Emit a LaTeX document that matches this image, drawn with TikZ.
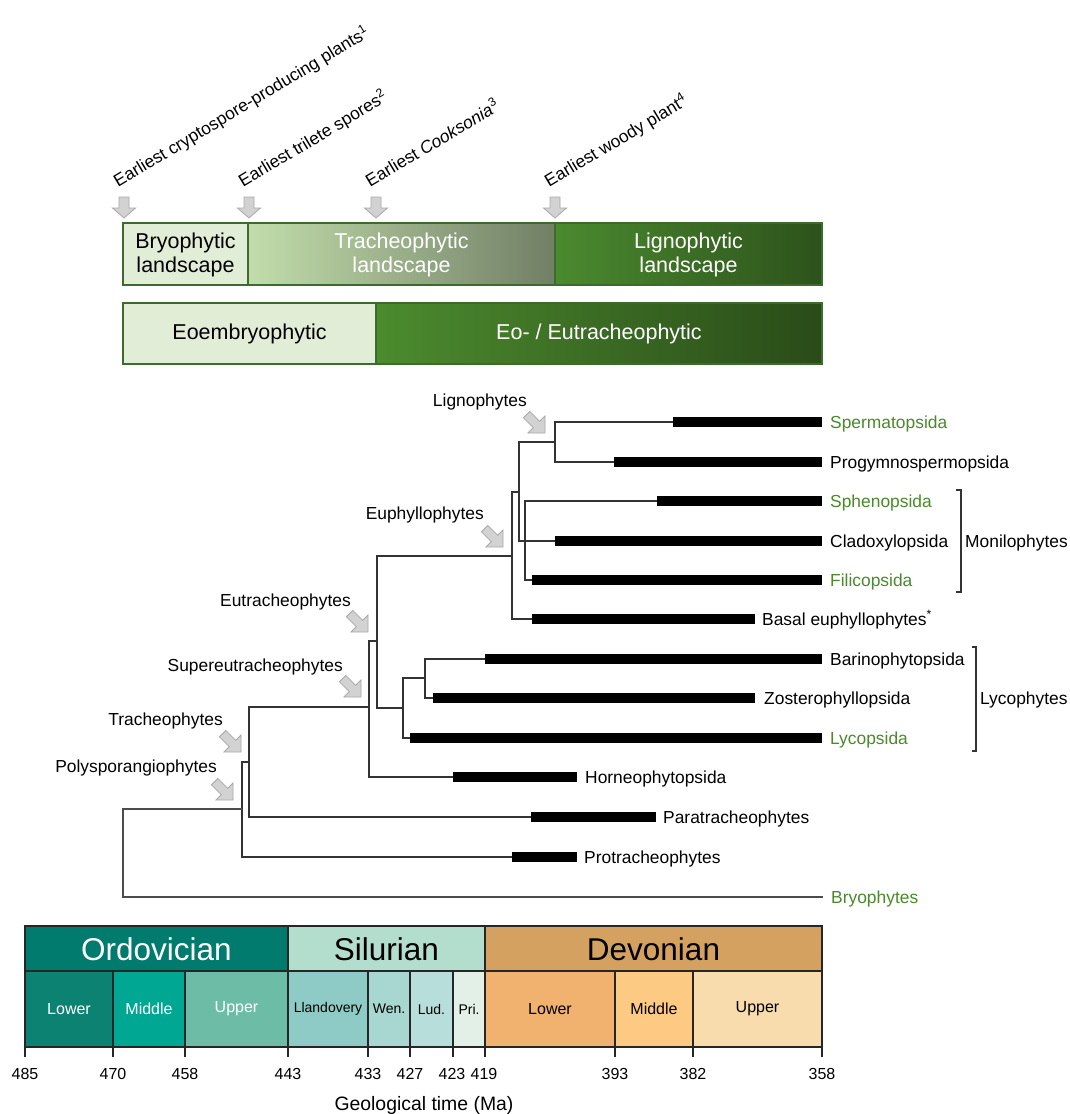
\documentclass[tikz,border=0pt]{standalone}
\usepackage{fontspec}
\setmainfont{Liberation Sans}
\definecolor{leafgreen}{HTML}{4A8A2A}
\definecolor{boxborder}{HTML}{3D6B2B}
\definecolor{paleland}{HTML}{E2EDD7}
\definecolor{trachL}{HTML}{C2DDAB}
\definecolor{trachR}{HTML}{717F66}
\definecolor{ligL}{HTML}{4B8A2F}
\definecolor{ligR}{HTML}{2D521C}
\definecolor{eutL}{HTML}{4C8B2E}
\definecolor{eutR}{HTML}{2A4B19}
\definecolor{arrfill}{HTML}{D2D2D2}
\definecolor{arrdraw}{HTML}{A8A8A8}
\definecolor{ordH}{HTML}{007B6E}
\definecolor{ordL}{HTML}{0B8272}
\definecolor{ordM}{HTML}{00A893}
\definecolor{ordU}{HTML}{6DBCA6}
\definecolor{silH}{HTML}{B3DDCC}
\definecolor{silLl}{HTML}{8ECBC6}
\definecolor{silW}{HTML}{A8D6D1}
\definecolor{silLu}{HTML}{B8DEDB}
\definecolor{silP}{HTML}{E2F0E8}
\definecolor{devH}{HTML}{D5A161}
\definecolor{devL}{HTML}{F0B26E}
\definecolor{devM}{HTML}{FCCA82}
\definecolor{devU}{HTML}{F9DCAE}
\begin{document}
\begin{tikzpicture}[x=1pt,y=-1pt,
  tree/.style={draw=black!80, line width=1.4pt},
  brk/.style={draw=black!80, line width=1.3pt},
  lab/.style={font=\fontsize{17.4}{20}\selectfont, anchor=base west, inner sep=0pt},
  glab/.style={lab, text=leafgreen},
  clab/.style={font=\fontsize{17.4}{20}\selectfont, anchor=base east, inner sep=0pt},
  evlab/.style={font=\fontsize{17.4}{20}\selectfont, anchor=base west, inner sep=0pt, rotate=31},
  land/.style={font=\fontsize{21.5}{24}\selectfont, align=center, inner sep=0pt},
  landbox/.style={draw=boxborder, line width=2pt},
  per/.style={font=\fontsize{31.5}{34}\selectfont, inner sep=0pt},
  sub/.style={font=\fontsize{16}{18}\selectfont, inner sep=0pt},
  ssub/.style={font=\fontsize{14}{16}\selectfont, inner sep=0pt},
  tick/.style={font=\fontsize{16}{18}\selectfont, anchor=base, inner sep=0pt},
  tsbox/.style={draw=black!85, line width=1.3pt},
  downarr/.pic={\draw[fill=arrfill, draw=arrdraw, line width=0.8pt]
     (0,0) -- (-11.5,-10) -- (-5,-10) -- (-5,-21) -- (5,-21) -- (5,-10) -- (11.5,-10) -- cycle;},
  diagarr/.pic={\draw[fill=arrfill, draw=arrdraw, line width=0.8pt, rotate=45]
     (0,0) -- (-12,-12) -- (-4.5,-12) -- (-4.5,-26) -- (4.5,-26) -- (4.5,-12) -- (12,-12) -- cycle;}
]
\fill[white] (0,0) rectangle (1069,1114);
\useasboundingbox (0,0) rectangle (1069,1114);

% ---------- event labels and arrows ----------
\node[evlab] (ev1) at (118,188) {Earliest cryptospore-producing plants\textsuperscript{1}};
\node[evlab] (ev2) at (243,188) {Earliest trilete spores\textsuperscript{2}};
\node[evlab] (ev3) at (370,188) {Earliest \textit{Cooksonia}\textsuperscript{3}};
\node[evlab] (ev4) at (549,188) {Earliest woody plant\textsuperscript{4}};
\pic at (124,218) {downarr};
\pic at (249,218) {downarr};
\pic at (376,218) {downarr};
\pic at (555,218) {downarr};

% ---------- landscape bars ----------
\fill[paleland] (123,223) rectangle (248,285);
\shade[left color=trachL, right color=trachR] (248,223) rectangle (555,285);
\shade[left color=ligL, right color=ligR] (555,223) rectangle (822,285);
\draw[landbox] (123,223) rectangle (822,285);
\draw[landbox] (248,223) -- (248,285);
\draw[landbox] (555,223) -- (555,285);
\node[land] (bryl) at (185.5,255) {Bryophytic\\landscape};
\node[land, text=white] (tral) at (401.5,255) {Tracheophytic\\landscape};
\node[land, text=white] (ligl) at (688.5,255) {Lignophytic\\landscape};

\fill[paleland] (123,303) rectangle (376,364);
\shade[left color=eutL, right color=eutR] (376,303) rectangle (822,364);
\draw[landbox] (123,303) rectangle (822,364);
\draw[landbox] (376,303) -- (376,364);
\node[land] (eoe) at (249.5,333.5) {Eoembryophytic};
\node[land, text=white] (eue) at (599,333.5) {Eo- / Eutracheophytic};

% ---------- tree ----------
\coordinate (sp0) at (673,422);
\coordinate (pg0) at (614,462);
\coordinate (sh0) at (657,501);
\coordinate (cl0) at (555,541);
\coordinate (fi0) at (532,580);
\coordinate (ba0) at (532,619);
\coordinate (bn0) at (485,659);
\coordinate (zo0) at (433,698);
\coordinate (ly0) at (410,738);
\coordinate (ho0) at (453,777);
\coordinate (pa0) at (531,817);
\coordinate (pr0) at (512,857);
\coordinate (br0) at (823,897);

\coordinate (lig) at (555,442);
\coordinate (nA) at (519,492);
\coordinate (mon) at (525,541);
\coordinate (eup) at (512,556);
\coordinate (eut) at (377,641);
\coordinate (zos) at (425,678);
\coordinate (lyc) at (403,708);
\coordinate (seu) at (369,707);
\coordinate (tra) at (249,762);
\coordinate (pol) at (242,809);
\coordinate (root) at (123,897);

\draw[tree] (sp0) -| (lig) |- (pg0);
\draw[tree] (lig) -| (nA) |- (cl0);
\draw[tree] (sh0) -| (mon) |- (fi0);
\draw[tree] (nA) -| (eup) |- (ba0);
\draw[tree] (eup) -| (eut) |- (lyc);
\draw[tree] (bn0) -| (zos) |- (zo0);
\draw[tree] (zos) -| (lyc) |- (ly0);
\draw[tree] (eut) -| (seu) |- (ho0);
\draw[tree] (seu) -| (tra) |- (pa0);
\draw[tree] (tra) -| (pol) |- (pr0);
\draw[draw=black!70, line width=1.4pt] (pol) -| (root) -- (br0);

% range bars
\fill (673,417) rectangle (822,427);
\fill (614,457) rectangle (822,467);
\fill (657,496) rectangle (822,506);
\fill (555,536) rectangle (822,546);
\fill (532,575) rectangle (822,585);
\fill (532,614) rectangle (755,624);
\fill (485,654) rectangle (822,664);
\fill (433,693) rectangle (755,703);
\fill (410,733) rectangle (822,743);
\fill (453,772) rectangle (577,782);
\fill (531,812) rectangle (656,822);
\fill (512,852) rectangle (577,862);

% leaf labels
\node[glab] (spe) at (830,428) {Spermatopsida};
\node[lab]  (prg) at (830,468) {Progymnospermopsida};
\node[glab] (sph) at (830,507) {Sphenopsida};
\node[lab]  (cla) at (830,547) {Cladoxylopsida};
\node[glab] (fil) at (830,586) {Filicopsida};
\node[lab]  (bas) at (762,625) {Basal euphyllophytes\textsuperscript{*}};
\node[lab]  (bar) at (830,665) {Barinophytopsida};
\node[lab]  (zst) at (764,704) {Zosterophyllopsida};
\node[glab] (lyo) at (830,744) {Lycopsida};
\node[lab]  (hor) at (585,783) {Horneophytopsida};
\node[lab]  (par) at (663,823) {Paratracheophytes};
\node[lab]  (pro) at (584,863) {Protracheophytes};
\node[glab] (bry) at (831,903) {Bryophytes};

% brackets
\draw[brk] (956,490) -- (961,490) -- (961,592) -- (956,592);
\node[lab] (moni) at (965,547) {Monilophytes};
\draw[brk] (972,647) -- (976,647) -- (976,751) -- (972,751);
\node[lab] (lyco) at (980,704) {Lycophytes};

% clade labels and arrows
\node[clab] (cLig) at (527,406) {Lignophytes};
\pic at (545,433) {diagarr};
\node[clab] (cEup) at (484,519) {Euphyllophytes};
\pic at (503,547) {diagarr};
\node[clab] (cEut) at (351,606) {Eutracheophytes};
\pic at (368,632) {diagarr};
\node[clab] (cSeu) at (343,671) {Supereutracheophytes};
\pic at (361,697) {diagarr};
\node[clab] (cTra) at (223,725) {Tracheophytes};
\pic at (241,752) {diagarr};
\node[clab] (cPol) at (217,772) {Polysporangiophytes};
\pic at (233,800) {diagarr};

% ---------- timescale ----------
\fill[ordH] (25,926) rectangle (288,971);
\fill[silH] (288,926) rectangle (485,971);
\fill[devH] (485,926) rectangle (822,971);
\fill[ordL] (25,971) rectangle (113,1047);
\fill[ordM] (113,971) rectangle (185,1047);
\fill[ordU] (185,971) rectangle (288,1047);
\fill[silLl] (288,971) rectangle (368,1047);
\fill[silW] (368,971) rectangle (410,1047);
\fill[silLu] (410,971) rectangle (453,1047);
\fill[silP] (453,971) rectangle (485,1047);
\fill[devL] (485,971) rectangle (615,1047);
\fill[devM] (615,971) rectangle (693,1047);
\fill[devU] (693,971) rectangle (822,1047);
\draw[tsbox] (25,926) rectangle (822,1047);
\draw[tsbox] (25,971) -- (822,971);
\draw[tsbox] (288,926) -- (288,1057);
\draw[tsbox] (485,926) -- (485,1057);
\foreach \xx in {25,113,185,368,410,453,615,693,822}
  \draw[tsbox] (\xx,971) -- (\xx,1057);

\node[per, text=white] (ordo) at (156.5,949) {Ordovician};
\node[per] (silu) at (386.5,949) {Silurian};
\node[per] (devo) at (653.5,949) {Devonian};

\node[sub, text=white] (oL) at (69,1009) {Lower};
\node[sub, text=white] (oM) at (149,1009) {Middle};
\node[sub, text=white] (oU) at (236.5,1009) {Upper};
\node[ssub] (sLl) at (328,1009) {Llandovery};
\node[ssub] (sW) at (389,1009) {Wen.};
\node[ssub] (sLu) at (431.5,1009) {Lud.};
\node[ssub] (sP) at (469,1009) {Pri.};
\node[sub] (dL) at (550,1009) {Lower};
\node[sub] (dM) at (654,1009) {Middle};
\node[sub] (dU) at (757.5,1009) {Upper};

\node[tick] (t485) at (25,1079) {485};
\node[tick] (t470) at (113,1079) {470};
\node[tick] (t458) at (185,1079) {458};
\node[tick] (t443) at (288,1079) {443};
\node[tick] (t433) at (368,1079) {433};
\node[tick] (t427) at (410,1079) {427};
\node[tick] (t423) at (452,1079) {423};
\node[tick] (t419) at (484,1079) {419};
\node[tick] (t393) at (615,1079) {393};
\node[tick] (t382) at (693,1079) {382};
\node[tick] (t358) at (822,1079) {358};
\node[font=\fontsize{19.4}{22}\selectfont, anchor=base, inner sep=0pt] (gt) at (424,1110) {Geological time (Ma)};
\end{tikzpicture}
\end{document}
